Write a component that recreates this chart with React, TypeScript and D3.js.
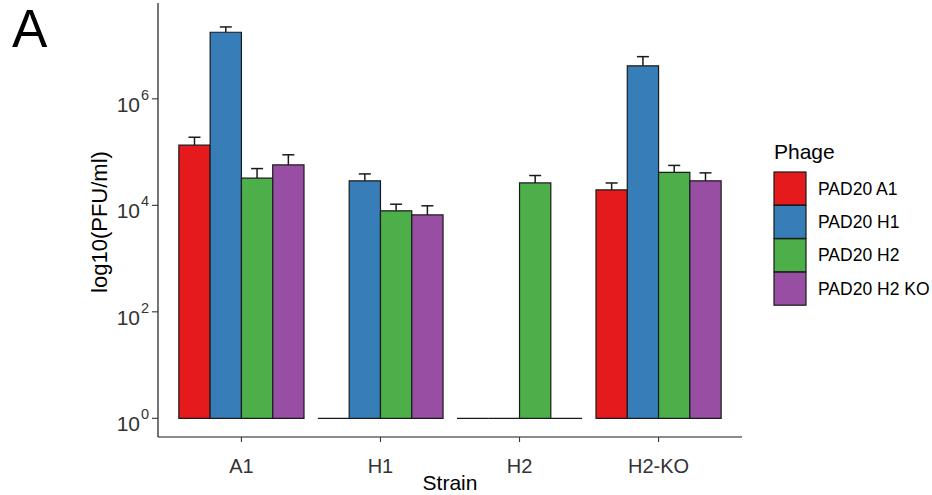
import React from "react";
import * as d3 from "d3";

const strains = ["A1", "H1", "H2", "H2-KO"];
const phages = ["PAD20 A1", "PAD20 H1", "PAD20 H2", "PAD20 H2 KO"];
const colors = ["#E41A1C", "#377EB8", "#4DAF4A", "#984EA3"];

// PFU/ml values per strain, in phage order (1 = no plaques, drawn as flat bar)
const valA1 = [135000, 17800000, 32400, 57500];
const valH1 = [1, 28800, 7900, 6600];
const valH2 = [1, 1, 26300, 1];
const valH2KO = [19500, 4170000, 41700, 28800];
// upper end of error bars (null = none)
const errA1 = [190000, 22400000, 49000, 89000];
const errH1 = [null, 38900, 10500, 9800];
const errH2 = [null, null, 36300, null];
const errH2KO = [26300, 6200000, 56200, 40700];

const yTickExps = [0, 2, 4, 6];

const values = [valA1, valH1, valH2, valH2KO];
const errors = [errA1, errH1, errH2, errH2KO];

export default function App() {
  const W = 932, H = 495;
  const left = 158, right = 742, top = 3, bottom = 437;
  const x = d3.scaleBand<string>().domain(strains).range([left, right]).paddingInner(0.1).paddingOuter(0.15);
  const xi = d3.scaleBand<string>().domain(phages).range([0, x.bandwidth()]);
  const y = d3.scaleLog().domain([Math.pow(10, -0.351), Math.pow(10, 7.8)]).range([bottom, top]);
  const y0 = y(1);
  const capW = 12;
  const font = "'Liberation Sans', Arial, sans-serif";

  const bars: React.ReactNode[] = [];
  const errs: React.ReactNode[] = [];
  strains.forEach((s, si) => {
    phages.forEach((p, pi) => {
      const v = values[si][pi];
      const bx = (x(s) as number) + (xi(p) as number);
      const bw = xi.bandwidth();
      const yt = y(v);
      bars.push(
        <path key={`b-${s}-${p}`} d={`M${bx},${y0}V${yt}H${bx + bw}V${y0}Z`} fill={colors[pi]} stroke="#1a1a1a" strokeWidth={1.2} />
      );
      const e = errors[si][pi];
      if (e != null) {
        const cx = bx + bw / 2;
        const ye = y(e);
        errs.push(
          <g key={`e-${s}-${p}`} stroke="#1a1a1a" strokeWidth={1.5}>
            <line x1={cx} x2={cx} y1={yt} y2={ye} />
            <line x1={cx - capW / 2} x2={cx + capW / 2} y1={ye} y2={ye} />
          </g>
        );
      }
    });
  });

  return (
    <svg width={W} height={H} style={{ position: "absolute", left: 0, top: 0, background: "#fff" }} fontFamily={font}>
      <rect x={0} y={0} width={W} height={H} fill="#fff" />
      <text x={12} y={47} fontSize={53} fill="#000">A</text>
      {errs}
      {bars}
      {/* axes */}
      <line x1={left} x2={left} y1={top} y2={bottom} stroke="#1a1a1a" strokeWidth={1.2} />
      <line x1={left} x2={right} y1={bottom} y2={bottom} stroke="#1a1a1a" strokeWidth={1.2} />
      {yTickExps.map((ex) => {
        const ty = y(Math.pow(10, ex));
        return (
          <g key={`yt${ex}`}>
            <line x1={left - 6} x2={left} y1={ty} y2={ty} stroke="#333" strokeWidth={1.1} />
            <text x={140} y={ty + 13} fontSize={21} fill="#333" textAnchor="end">10</text>
            <text x={141} y={ty + 1} fontSize={14.5} fill="#333" textAnchor="start">{ex}</text>
          </g>
        );
      })}
      {strains.map((s) => {
        const cx = (x(s) as number) + x.bandwidth() / 2;
        return (
          <g key={`xt${s}`}>
            <line x1={cx} x2={cx} y1={bottom} y2={bottom + 5} stroke="#333" strokeWidth={1.1} />
            <text x={cx} y={473} fontSize={20} fill="#333" textAnchor="middle">{s}</text>
          </g>
        );
      })}
      <text x={(left + right) / 2} y={490} fontSize={21} fill="#000" textAnchor="middle">Strain</text>
      <text transform={`translate(107,${(top + bottom) / 2 + 2}) rotate(-90)`} fontSize={22} fill="#000" textAnchor="middle">log10(PFU/ml)</text>
      {/* legend */}
      <text x={774} y={159} fontSize={21} fill="#000">Phage</text>
      {phages.map((p, i) => {
        const ky = 172 + i * 33.4;
        return (
          <g key={`lg${p}`}>
            <rect x={774} y={ky} width={32} height={33} fill={colors[i]} stroke="#1a1a1a" strokeWidth={1.2} />
            <text x={818} y={ky + 16.5} dy="0.35em" fontSize={17.5} fill="#000">{p}</text>
          </g>
        );
      })}
    </svg>
  );
}
